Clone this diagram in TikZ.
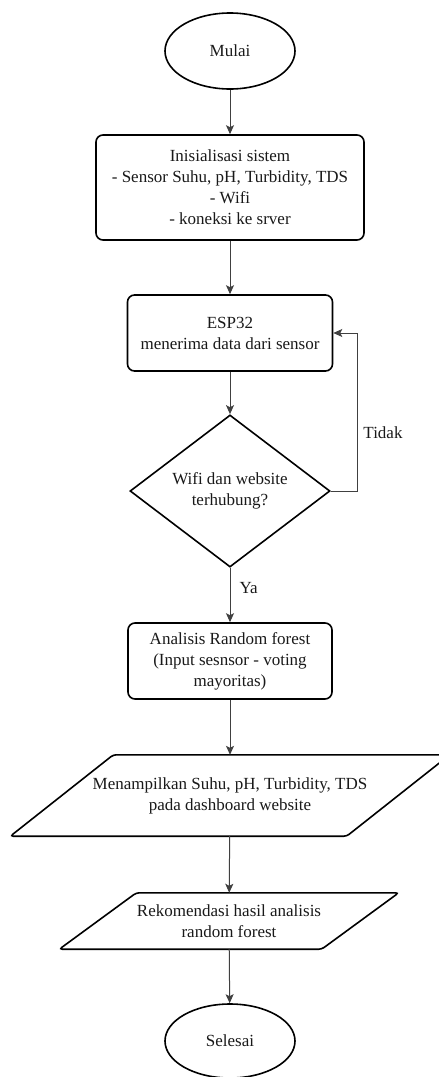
\documentclass[tikz,border=0pt]{standalone}
\usepackage{fontspec}
\setmainfont{Liberation Serif}
\usetikzlibrary{shapes.geometric,arrows.meta}
\begin{document}
\begin{tikzpicture}[x=1pt,y=-1pt]
\tikzstyle{every node}+=[font=\fontsize{17}{21}\selectfont, align=center, text=black!90]
\tikzstyle{terminal}=[draw, line width=1.6pt, ellipse, inner sep=0pt, minimum width=130pt, minimum height=76pt]
\tikzstyle{process}=[draw, line width=1.6pt, rounded corners=7pt, inner sep=0pt]
\tikzstyle{decision}=[draw, line width=1.6pt, diamond, inner sep=0pt, minimum width=200pt, minimum height=128pt]
\tikzstyle{data}=[inner sep=0pt]
\tikzstyle{outline}=[line width=1.6pt, rounded corners=3pt]
\tikzstyle{flow}=[draw=black!75, line width=1pt, -{Stealth[length=9pt,width=8pt,inset=2pt]}]
\useasboundingbox (0,0) rectangle (439,1077);
\node [terminal] (mulai) at (230,51) {Mulai};
\node [process, minimum width=268pt, minimum height=105pt] (init) at (230,187.5) {Inisialisasi sistem\\- Sensor Suhu, pH, Turbidity, TDS\\- Wifi\\- koneksi ke srver};
\node [process, minimum width=205pt, minimum height=76pt] (esp) at (230,333) {ESP32\\menerima data dari sensor};
\node [decision] (cek) at (230,491) {Wifi dan website\\terhubung?};
\node [process, minimum width=204pt, minimum height=76pt] (rf) at (230,661) {Analisis Random forest\\(Input sesnsor - voting\\mayoritas)};
% parallelograms drawn round plain nodes
\node [data, minimum width=336pt, minimum height=81pt] (tampil) at (230,795.5) {Menampilkan Suhu, pH, Turbidity, TDS\\pada dashboard website};
\draw [outline] ([xshift=-51.5pt]tampil.south west) -- ([xshift=51.5pt]tampil.north west) -- ([xshift=51.5pt]tampil.north east) -- ([xshift=-51.5pt]tampil.south east) -- cycle;
\node [data, minimum width=262pt, minimum height=56pt] (rekom) at (229,921) {Rekomendasi hasil analisis\\random forest};
\draw [outline] ([xshift=-38.5pt]rekom.south west) -- ([xshift=38.5pt]rekom.north west) -- ([xshift=38.5pt]rekom.north east) -- ([xshift=-38.5pt]rekom.south east) -- cycle;
\node [terminal, minimum height=74pt] (selesai) at (230,1041) {Selesai};
\draw [flow] (mulai) -- (init);
\draw [flow] (init) -- (esp);
\draw [flow] (esp) -- (cek);
\draw [flow] (cek) -- (rf);
\node [anchor=west] (ya) at (236,588) {Ya};
\draw [flow] (cek.east) -- ++(27,0) |- (esp.east);
\node (tidak) at (383,433) {Tidak};
\draw [flow] (rf) -- (tampil);
\draw [flow] (tampil) -- (rekom);
\draw [flow] (rekom) -- (selesai);
\end{tikzpicture}
\end{document}
